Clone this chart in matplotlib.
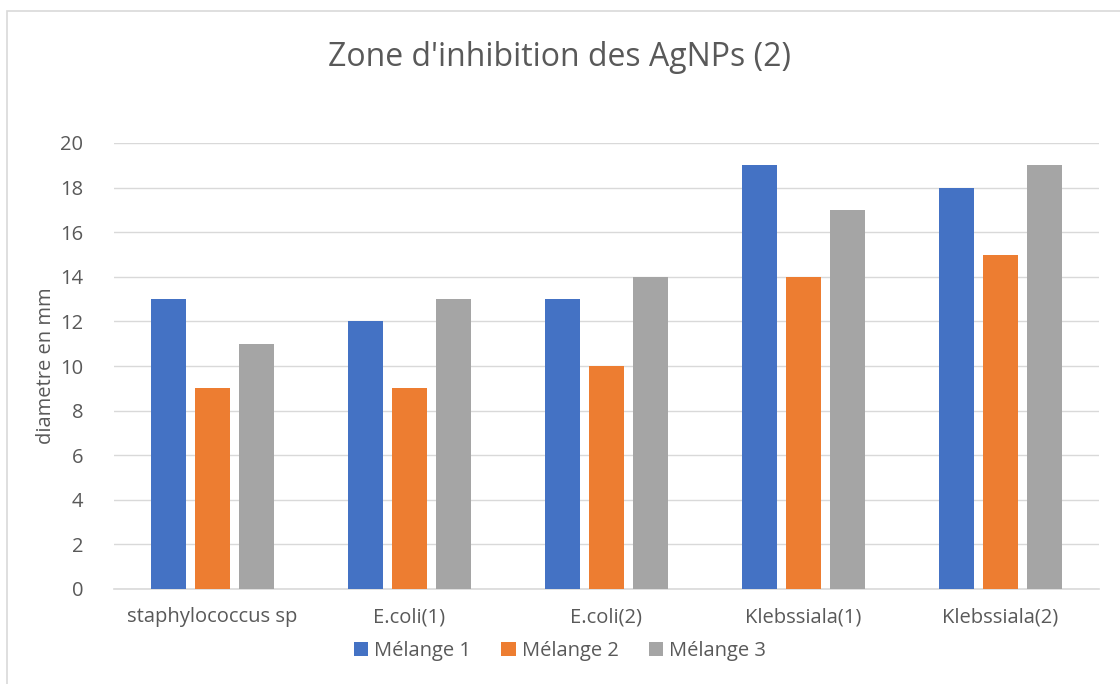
import numpy as np
import matplotlib.pyplot as plt
from matplotlib.patches import Rectangle

# data
categories = ["staphylococcus sp", "E.coli(1)", "E.coli(2)", "Klebssiala(1)", "Klebssiala(2)"]
melange1 = [13, 12, 13, 19, 18]
melange2 = [9, 9, 10, 14, 15]
melange3 = [11, 13, 14, 17, 19]
series_names = ["Mélange 1", "Mélange 2", "Mélange 3"]
colors = ["#4472C4", "#ED7D31", "#A5A5A5"]

plt.rcParams['font.family'] = ['Open Sans', 'DejaVu Sans']

fig = plt.figure(figsize=(11.2, 6.84), dpi=100)
ax = fig.add_axes([114/1120, 1 - 589/684, (1099-114)/1120, (589-143)/684])

# chart border
fig.patches.append(Rectangle((7/1120, -0.1), 1.2, 1 - 11/684 + 0.1, transform=fig.transFigure,
                             fill=False, edgecolor="#D9D9D9", linewidth=1.2))

x = np.arange(len(categories))
step = 0.223
width = 0.178
for i, (vals, name, c) in enumerate(zip([melange1, melange2, melange3], series_names, colors)):
    ax.bar(x + (i - 1) * step, vals, width, color=c, label=name, zorder=3)

ax.set_xlim(-0.5, len(categories) - 0.5)
ax.set_ylim(0, 20)
ax.set_yticks(range(0, 21, 2))
ax.yaxis.grid(True, color="#D9D9D9", linewidth=1, zorder=0)
for s in ["top", "right", "left"]:
    ax.spines[s].set_visible(False)
ax.spines["bottom"].set_color("#D9D9D9")
ax.spines["bottom"].set_linewidth(1.2)
ax.tick_params(axis="both", length=0, labelsize=14.5, colors="#595959", pad=13)
ax.tick_params(axis="y", pad=22)
ax.set_xticks(x)
ax.set_xticklabels(categories)
ax.set_ylabel("diametre en mm", fontsize=14.5, color="#595959", labelpad=3)

fig.text(0.5, 1 - 57/684, "Zone d'inhibition des AgNPs (2)", ha="center", va="center",
         fontsize=23, color="#595959")

fig.legend(loc="center", bbox_to_anchor=(0.5, 1 - 651/684), ncol=3, frameon=False,
           fontsize=14.5, labelcolor="#595959", handlelength=0.7, handleheight=0.7,
           handletextpad=0.3, columnspacing=1.5)

fig.savefig("out.png", dpi=100)
